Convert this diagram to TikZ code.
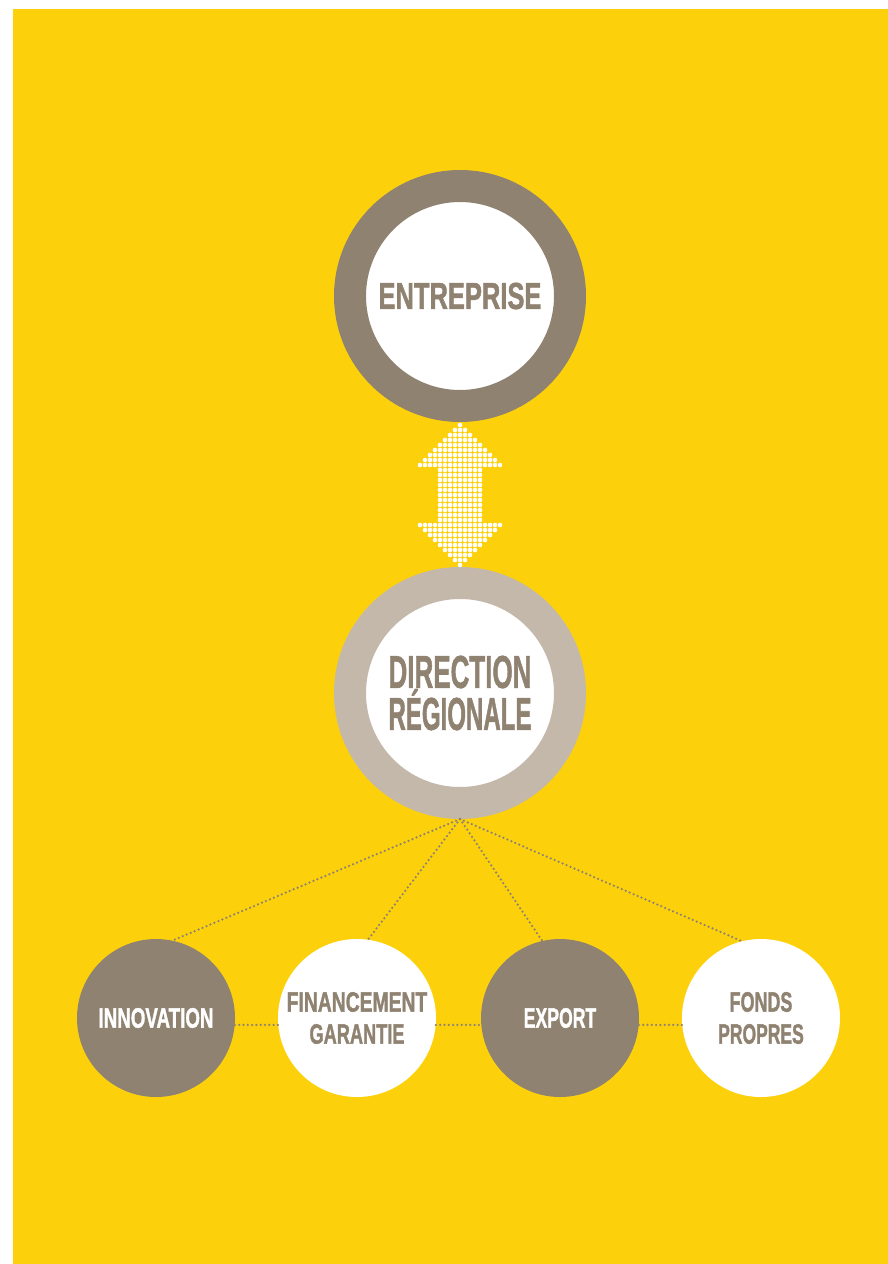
\documentclass[tikz,border=0pt]{standalone}
\usepackage{fontspec}
\setmainfont{Liberation Sans}[BoldFeatures={FakeBold=1.6}]
\usepackage{graphicx}
\usetikzlibrary{calc}
\definecolor{bgyellow}{RGB}{252,209,12}
\definecolor{taupe}{RGB}{143,130,112}
\definecolor{lighttaupe}{RGB}{196,184,171}
\newcommand\sqz[2]{\scalebox{#1}[1]{#2}}
\begin{document}
\begin{tikzpicture}[x=1pt,y=-1pt,
  ring/.style={circle, minimum size=220pt, inner sep=0pt, line width=32pt, fill=white, text=taupe},
  bubble/.style={circle, minimum size=158pt, inner sep=0pt, font=\bfseries\fontsize{28}{32}\selectfont, align=center},
  darkbub/.style={bubble, fill=taupe, text=white},
  lightbub/.style={bubble, fill=white, text=taupe},
  dotline/.style={draw=taupe, line width=2.5pt, dash pattern=on 0pt off 4.3pt, line cap=round},
  arrdot/.style={fill=white}
  ]
\useasboundingbox (0,0) rectangle (888,1264);
\fill[white] (0,0) rectangle (888,1264);
\fill[bgyellow] (13,9) rectangle (888,1264);

% main rings
\node[ring, draw=taupe, font=\bfseries\fontsize{37.5}{37.5}\selectfont] (ent) at (460,296) {\sqz{0.68}{ENTREPRISE}};
\node[ring, draw=lighttaupe, align=center, font=\bfseries\fontsize{46}{42}\selectfont] (dir) at (460,693) {\sqz{0.565}{DIRECTION}\\\sqz{0.523}{RÉGIONALE}};

% bottom bubbles
\node[darkbub] (inno) at (156,1018) {\sqz{0.67}{INNOVATION}};
\node[lightbub] (fin) at (357,1018) {\sqz{0.69}{FINANCEMENT}\\\sqz{0.65}{GARANTIE}};
\node[darkbub] (exp) at (560,1018) {\sqz{0.63}{EXPORT}};
\node[lightbub] (fonds) at (761,1018) {\sqz{0.64}{FONDS}\\\sqz{0.625}{PROPRES}};

% dotted connectors
\draw[dotline] (dir.south) -- (inno.78);
\draw[dotline] (dir.south) -- (fin.82);
\draw[dotline] (dir.south) -- (exp.103);
\draw[dotline] (dir.south) -- (fonds.104);
\draw[dotline] (inno.-5) -- (fin.-175);
\draw[dotline] (fin.-5) -- (exp.-175);
\draw[dotline] (exp.-5) -- (fonds.-175);

% dotted double arrow
\coordinate (atop) at ($(ent.south)+(0,3)$);
\foreach \j in {0,...,28} {
  \pgfmathtruncatemacro\hw{\j<=8 ? \j : (\j>=20 ? 28-\j : 4)}
  \foreach \i in {-\hw,...,\hw} {
    \fill[arrdot] ($(atop)+(5*\i,5*\j)$) circle (2.3pt);
  }
}
\end{tikzpicture}
\end{document}
